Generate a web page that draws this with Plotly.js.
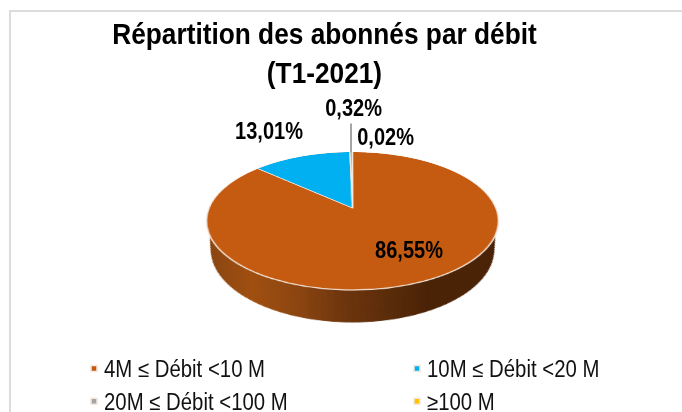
<!DOCTYPE html>
<html><head><meta charset="utf-8">
<script src="https://cdn.plot.ly/plotly-3.0.1.min.js"></script>
<style>
html,body{margin:0;padding:0;background:#fff;overflow:hidden}
#frame{position:absolute;left:9px;top:10px;width:680px;height:410px;border:2px solid #dcdcdc;box-sizing:border-box}
#chart{position:absolute;left:0;top:0;width:682px;height:412px}
</style></head><body>
<div id="frame"></div><div id="chart"></div>
<script>
const categories = ['4M ≤ Débit <10 M','10M ≤ Débit <20 M','20M ≤ Débit <100 M','≥100 M'];
const shares = [86.55,13.01,0.32,0.02];
const colors = ['#C55A11','#00B0F0','#A5A5A5','#FFC000'];
const wallStopsX = [207,250,300,340,400,430,500];
const wallStopsColor = [[138,69,16],[160,79,16],[138,68,16],[112,54,14],[86,42,8],[74,34,6],[74,34,6]];
const labelPositions = [[409,250],[269,131],[353,108],[385,137]];

const W=682,H=412,Cx=341,Cy=180,R=150;
const FONT='"Liberation Sans",Arial,sans-serif';
const a=27.36,c=-0.1884,d=143.4,X0=352.5,Y0=208;
function toPlane(X,Y){
  const v=(Y-Y0)/(a-c*Y);
  const u=(X-X0)*(1+c*v)/d;
  return [Cx+u*R,Cy+v*R];
}
function wallColor(x){
  let i=0; while(i<wallStopsX.length-2 && x>wallStopsX[i+1]) i++;
  const t=Math.min(1,Math.max(0,(x-wallStopsX[i])/(wallStopsX[i+1]-wallStopsX[i])));
  const p=wallStopsColor[i],q=wallStopsColor[i+1];
  return 'rgb('+p.map((n,k)=>Math.round(n+(q[k]-n)*t)).join(',')+')';
}
const traces=[];
const bands=70;
for(let i=0;i<bands;i++){
  const f0=Math.PI*(1-i/bands), f1=Math.PI*(1-(i+1)/bands);
  const pts=[];
  [[f0,1],[f1,1],[f1,0],[f0,0]].forEach(([f,isTop])=>{
    const S=Math.cos(f),N=Math.sin(f);
    const sc=isTop?0.98:1;
    const px=isTop?X0+146*sc*S:X0+141*S;
    const py=isTop?221+69*sc*N:250+72*N;
    pts.push(toPlane(px,py));
  });
  pts.push(pts[0]);
  const col=wallColor(X0+146*Math.cos((f0+f1)/2));
  traces.push({type:'scatter',mode:'lines',x:pts.map(p=>p[0]),y:pts.map(p=>p[1]),fill:'toself',fillcolor:col,
    line:{color:col,width:1},showlegend:false,hoverinfo:'skip'});
}
traces.push({type:'pie',labels:categories,values:shares,sort:false,direction:'clockwise',rotation:0,
  textinfo:'none',hoverinfo:'skip',marker:{colors:colors,line:{color:'#F4E8DE',width:1.5}},
  domain:{x:[(Cx-R)/W,(Cx+R)/W],y:[(H-Cy-R)/H,(H-Cy+R)/H]}});

const fmt=v=>v.toFixed(2).replace('.',',')+'%';
const labelFont={family:FONT,size:23,weight:'bold',color:'#000'};
const annotations=shares.map((v,i)=>({xref:'x',yref:'y',x:labelPositions[i][0],y:labelPositions[i][1],text:fmt(v),
  showarrow:false,font:labelFont,xanchor:'center',yanchor:'middle'}));
annotations.push({xref:'x',yref:'y',x:351,y:152,ax:351,ay:122,axref:'x',ayref:'y',text:'',showarrow:true,arrowhead:0,arrowwidth:2,arrowcolor:'#A5A5A5'});

const layout={width:W,height:H,margin:{l:0,r:0,t:0,b:0,autoexpand:false},paper_bgcolor:'rgba(0,0,0,0)',plot_bgcolor:'rgba(0,0,0,0)',
  xaxis:{visible:false,range:[0,W],domain:[0,1],fixedrange:true},
  yaxis:{visible:false,range:[H,0],domain:[0,1],fixedrange:true},
  title:{text:'Répartition des abonnés par débit<br>(T1-2021)',x:324.5/W,xanchor:'center',y:1-44/H,yanchor:'middle',
    font:{family:FONT,size:30,weight:'bold',color:'#000'}},
  showlegend:true,
  legend:{orientation:'h',x:64/W,xanchor:'left',y:(H-347)/H,yanchor:'top',entrywidth:278,entrywidthmode:'pixels',itemwidth:30,
    font:{family:FONT,size:23,color:'#111'},bgcolor:'rgba(0,0,0,0)',traceorder:'normal'},
  annotations:annotations};

function condense(el,k){
  const n=el.getComputedTextLength();
  el.setAttribute('textLength',n*k);
  el.setAttribute('lengthAdjust','spacingAndGlyphs');
}
Plotly.newPlot('chart',traces,layout,{staticPlot:true,displayModeBar:false}).then(gd=>{
  gd.querySelectorAll('.legendpie').forEach(p=>{p.setAttribute('d','M3,3H-3V-3H3Z');p.setAttribute('transform','translate(30,0)');});
  gd.querySelectorAll('.legendtext').forEach(t=>condense(t,0.885));
  gd.querySelectorAll('.annotation-text').forEach(t=>{if(t.textContent)condense(t,0.87)});
  gd.querySelectorAll('.gtitle tspan.line').forEach(t=>condense(t,0.875));
  const svg=gd.querySelectorAll('.main-svg')[0];
  const w0=1-c*Cy/R;
  const m=[d/R,0,0,0, X0*c/R,a/R,0,c/R, 0,0,1,0, -d*Cx/R+X0*w0, Y0-a*Cy/R,0,w0];
  svg.style.transformOrigin='0 0';
  svg.style.transform='matrix3d('+m.join(',')+')';
});
</script></body></html>
